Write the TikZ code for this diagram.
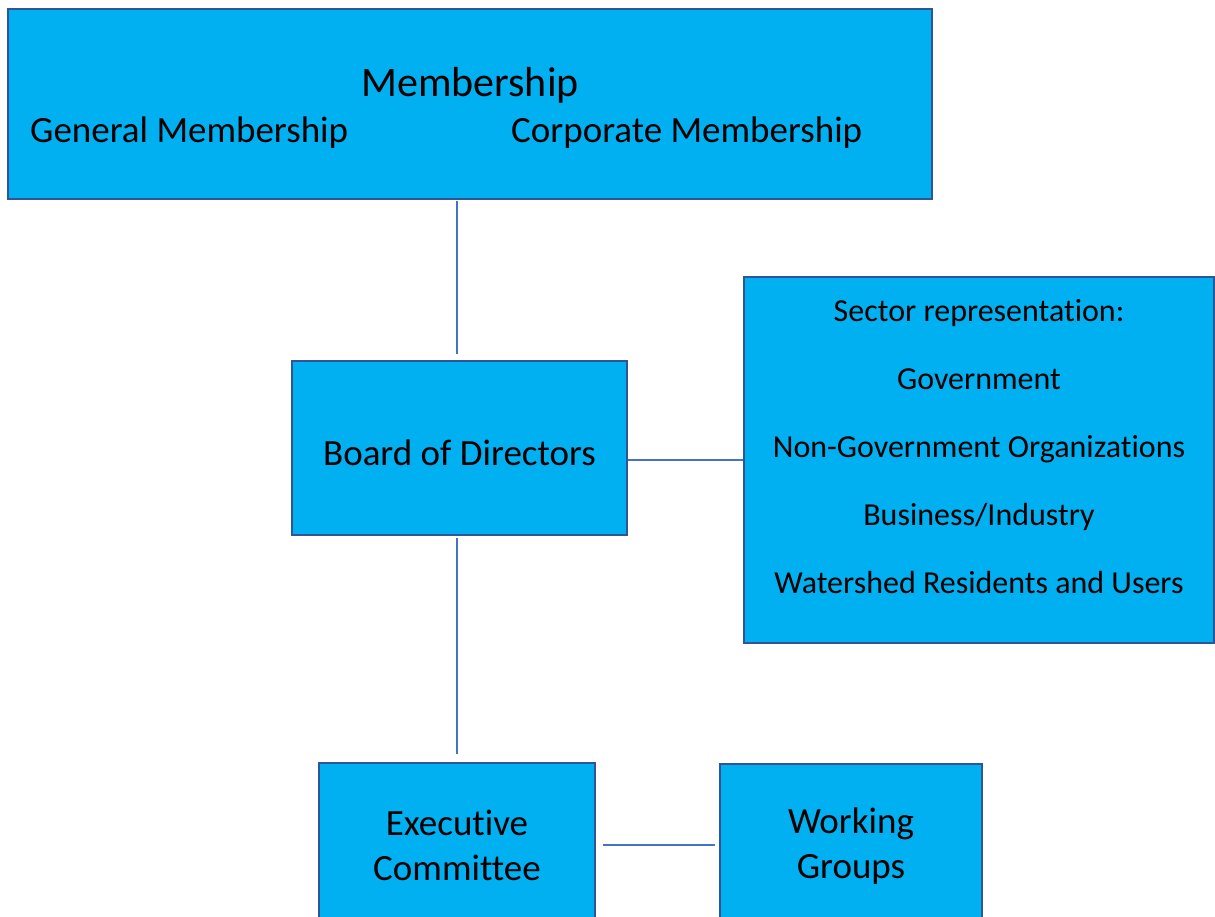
\documentclass[tikz,border=0pt]{standalone}
\usepackage{fontspec}
\setmainfont{Carlito}[Ligatures=NoCommon]
\definecolor{boxfill}{RGB}{0,176,240}
\definecolor{boxline}{RGB}{47,85,151}
\definecolor{linkline}{RGB}{68,114,196}
\tikzset{orgbox/.style={draw=boxline,fill=boxfill,line width=2.5pt,inner sep=0pt,align=center,
    font=\fontsize{37}{45}\selectfont},
  orgtext/.style={inner sep=0pt,font=\fontsize{37}{45}\selectfont},
  link/.style={draw=linkline,line width=1.3pt}}

\begin{document}
\begin{tikzpicture}[x=1pt,y=-1pt]
\useasboundingbox (0,0) rectangle (1215,917);

\node[orgbox,minimum width=924pt,minimum height=190pt] (member) at (470,104) {};
\node[orgtext,anchor=base,font=\fontsize{42}{50}\selectfont] (membertitle) at (470,97) {Membership};
\node[orgtext,anchor=base west] (general) at (30,143) {General Membership};
\node[orgtext,anchor=base west] (corporate) at (511,143) {Corporate Membership};

\node[orgbox,minimum width=335pt,minimum height=174pt,text height=35pt] (board) at (459.5,448) {Board of Directors};
\node[orgbox,minimum width=470pt,minimum height=366pt,text depth=28pt,font=\fontsize{32}{68}\selectfont] (sector) at (979,460)
  {Sector representation:\\Government\\Non-Government Organizations\\Business/Industry\\Watershed Residents and Users};
\node[orgbox,minimum width=276pt,minimum height=164pt] (exec) at (457,845) {Executive\\Committee};
\node[orgbox,minimum width=262pt,minimum height=164pt] (groups) at (851,846) {Working\\Groups};

\draw[link,shorten <=1pt,shorten >=6pt] (member.south -| exec) -- (board.north -| exec);
\draw[link,shorten <=2pt,shorten >=8pt] (board.south -| exec) -- (exec.north);
\draw[link] (board.east |- sector.west) -- (sector.west);
\draw[link,shorten <=7pt,shorten >=4pt] (exec.east) -- (exec.east -| groups.west);
\end{tikzpicture}
\end{document}
